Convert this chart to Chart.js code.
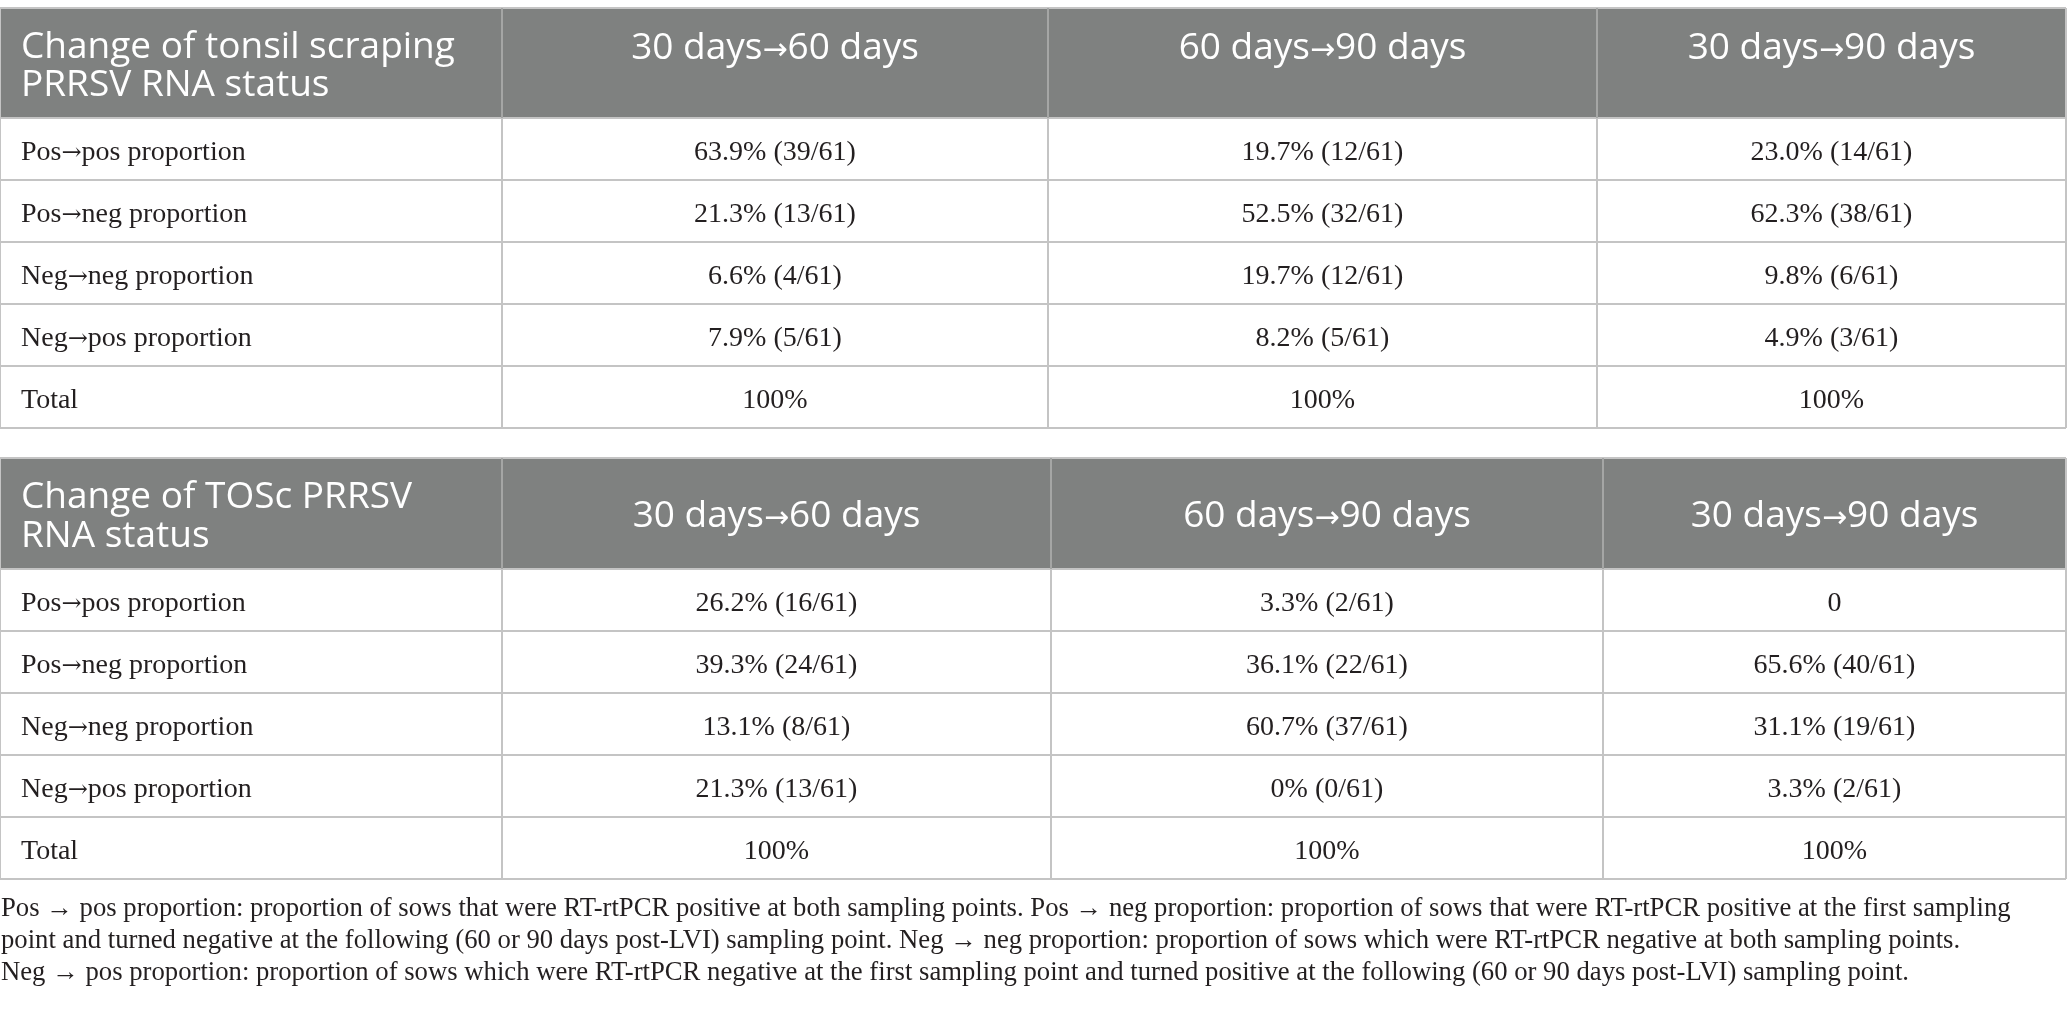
<!DOCTYPE html>
<html lang="en">
<head>
<meta charset="utf-8">
<title>Change of PRRSV RNA status</title>
<script src="https://cdn.jsdelivr.net/npm/chart.js@4.4.1/dist/chart.umd.min.js"></script>
<style>
  html, body { margin: 0; padding: 0; background: #fff; overflow: hidden; }
  canvas { display: block; }
</style>
</head>
<body>
<canvas id="tabla" width="2067" height="1012"></canvas>
<script>
// === DATOS ===
const columnas = ["30 days→60 days", "60 days→90 days", "30 days→90 days"];
const filas = ["Pos→pos proportion", "Pos→neg proportion", "Neg→neg proportion", "Neg→pos proportion", "Total"];

const tituloTonsil = ["Change of tonsil scraping", "PRRSV RNA status"];
const tonsil30a60 = ["63.9% (39/61)", "21.3% (13/61)", "6.6% (4/61)", "7.9% (5/61)", "100%"];
const tonsil60a90 = ["19.7% (12/61)", "52.5% (32/61)", "19.7% (12/61)", "8.2% (5/61)", "100%"];
const tonsil30a90 = ["23.0% (14/61)", "62.3% (38/61)", "9.8% (6/61)", "4.9% (3/61)", "100%"];

const tituloTosc = ["Change of TOSc PRRSV", "RNA status"];
const tosc30a60 = ["26.2% (16/61)", "39.3% (24/61)", "13.1% (8/61)", "21.3% (13/61)", "100%"];
const tosc60a90 = ["3.3% (2/61)", "36.1% (22/61)", "60.7% (37/61)", "0% (0/61)", "100%"];
const tosc30a90 = ["0", "65.6% (40/61)", "31.1% (19/61)", "3.3% (2/61)", "100%"];

const nota = [
  "Pos → pos proportion: proportion of sows that were RT-rtPCR positive at both sampling points. Pos → neg proportion: proportion of sows that were RT-rtPCR positive at the first sampling",
  "point and turned negative at the following (60 or 90 days post-LVI) sampling point. Neg → neg proportion: proportion of sows which were RT-rtPCR negative at both sampling points.",
  "Neg → pos proportion: proportion of sows which were RT-rtPCR negative at the first sampling point and turned positive at the following (60 or 90 days post-LVI) sampling point."
];

// === DISEÑO (unidades de las escalas) ===
const tablas = [
  {
    titulo: tituloTonsil,
    valores: [tonsil30a60, tonsil60a90, tonsil30a90],
    arriba: 8, finCabecera: 118,
    bordes: [0, 502, 1048, 1597, 2066],
    lineasTitulo: [50, 88], lineaColumnas: 51
  },
  {
    titulo: tituloTosc,
    valores: [tosc30a60, tosc60a90, tosc30a90],
    arriba: 458, finCabecera: 569,
    bordes: [0, 502, 1051, 1603, 2066],
    lineasTitulo: [50, 89], lineaColumnas: 69
  }
];
const altoFila = 62;
const notaLineas = [916, 948, 980];

const colorCabecera = "#7f8180";
const colorLinea = "#c4c4c4";
const colorTexto = "#231f20";
const fuenteCabecera = "37px 'Open Sans', 'Noto Sans', sans-serif";
const flechaCabecera = "30px 'DejaVu Sans', sans-serif";
const fuenteCuerpo = "28px 'Liberation Serif', 'DejaVu Serif', serif";
const flechaCuerpo = "24px 'DejaVu Serif', serif";
const fuenteNota = "26.7px 'Liberation Serif', 'DejaVu Serif', serif";

// texto con la flecha en otra fuente (la fuente base la dibuja muy pequeña)
function textoConFlecha(ctx, texto, x, y, alinear, fuente, fuenteFlecha) {
  const partes = texto.split("→");
  const medir = (s, f) => { ctx.font = f; return ctx.measureText(s).width; };
  let total = 0;
  partes.forEach((p, i) => {
    total += medir(p, fuente);
    if (i < partes.length - 1) total += medir("→", fuenteFlecha);
  });
  let cx = alinear === "center" ? x - total / 2 : x;
  ctx.textAlign = "left";
  partes.forEach((p, i) => {
    ctx.font = fuente;
    ctx.fillText(p, cx, y);
    cx += ctx.measureText(p).width;
    if (i < partes.length - 1) {
      ctx.font = fuenteFlecha;
      ctx.fillText("→", cx, y);
      cx += ctx.measureText("→").width;
    }
  });
}

// === DIBUJO ===
function dibujarTabla(ctx, sx, sy, t) {
  const px = v => sx.getPixelForValue(v);
  const py = v => sy.getPixelForValue(v);
  const b = t.bordes.map(px);
  const arriba = py(t.arriba);
  const finCab = py(t.finCabecera);
  const fin = py(t.finCabecera + altoFila * filas.length);

  // cabecera
  ctx.fillStyle = colorCabecera;
  ctx.fillRect(b[0], arriba, b[4] - b[0], finCab - arriba);

  // lineas
  ctx.strokeStyle = colorLinea;
  ctx.lineWidth = 2;
  ctx.beginPath();
  ctx.moveTo(b[0], arriba); ctx.lineTo(b[4], arriba);
  for (let i = 0; i <= filas.length; i++) {
    const yy = py(t.finCabecera + altoFila * i);
    ctx.moveTo(b[0], yy); ctx.lineTo(b[4], yy);
  }
  b.forEach(xx => { ctx.moveTo(xx, arriba); ctx.lineTo(xx, fin); });
  ctx.stroke();

  ctx.strokeStyle = "#9a9c9b";
  ctx.lineWidth = 1.5;
  ctx.beginPath();
  b.slice(1, 4).forEach(xx => { ctx.moveTo(xx, arriba); ctx.lineTo(xx, finCab); });
  ctx.stroke();

  // textos de cabecera
  ctx.fillStyle = "#ffffff";
  ctx.font = fuenteCabecera;
  ctx.textBaseline = "alphabetic";
  ctx.textAlign = "left";
  t.titulo.forEach((linea, i) => {
    ctx.fillText(linea, b[0] + 21, py(t.arriba + t.lineasTitulo[i]));
  });
  columnas.forEach((c, i) => {
    textoConFlecha(ctx, c, (b[i + 1] + b[i + 2]) / 2, py(t.arriba + t.lineaColumnas),
      "center", fuenteCabecera, flechaCabecera);
  });

  // cuerpo
  ctx.fillStyle = colorTexto;
  filas.forEach((f, r) => {
    const base = py(t.finCabecera + altoFila * r + 42);
    textoConFlecha(ctx, f, b[0] + 21, base, "left", fuenteCuerpo, flechaCuerpo);
    ctx.font = fuenteCuerpo;
    ctx.textAlign = "center";
    t.valores.forEach((col, c) => {
      ctx.fillText(col[r], (b[c + 1] + b[c + 2]) / 2, base);
    });
  });
}

function dibujarNota(ctx, sx, sy) {
  ctx.fillStyle = colorTexto;
  ctx.font = fuenteNota;
  ctx.textAlign = "left";
  ctx.textBaseline = "alphabetic";
  nota.forEach((linea, i) => {
    ctx.fillText(linea, sx.getPixelForValue(1), sy.getPixelForValue(notaLineas[i]), 2060);
  });
}

const tablaPlugin = {
  id: "tablaPlugin",
  afterDraw(chart) {
    const ctx = chart.ctx;
    ctx.save();
    tablas.forEach(t => dibujarTabla(ctx, chart.scales.x, chart.scales.y, t));
    dibujarNota(ctx, chart.scales.x, chart.scales.y);
    ctx.restore();
  }
};

new Chart(document.getElementById("tabla"), {
  type: "scatter",
  data: { datasets: [] },
  options: {
    responsive: false,
    animation: false,
    devicePixelRatio: 1,
    layout: { padding: 0 },
    plugins: { legend: { display: false }, tooltip: { enabled: false } },
    scales: {
      x: { type: "linear", min: 0, max: 2067, display: false },
      y: { type: "linear", min: 0, max: 1012, reverse: true, display: false }
    }
  },
  plugins: [tablaPlugin]
});
</script>
</body>
</html>
